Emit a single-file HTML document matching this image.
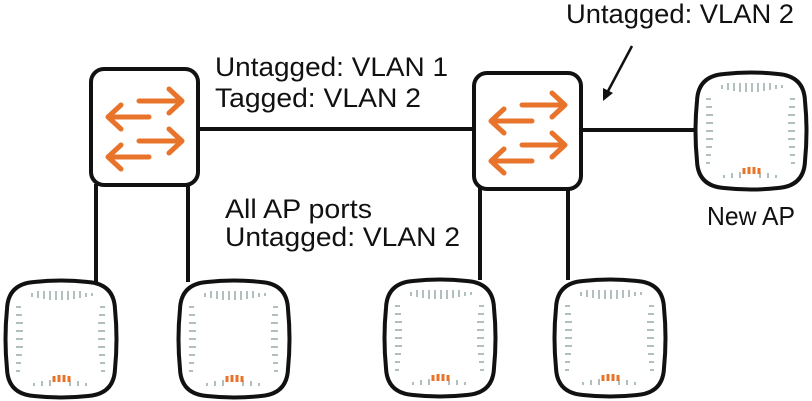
<!DOCTYPE html>
<html><head><meta charset="utf-8"><style>
html,body{margin:0;padding:0;background:#fff;}
svg{display:block;}
text{font-family:"Liberation Sans",sans-serif;fill:#111;}
</style></head><body>
<svg width="812" height="401" viewBox="0 0 812 401" xmlns="http://www.w3.org/2000/svg">
<defs>
<g id="sw">
<rect x="0" y="0" width="107" height="116" rx="13" fill="#fff" stroke="#111" stroke-width="4"/>
<g stroke="#e8742c" stroke-width="5" fill="none" stroke-linecap="round" stroke-linejoin="round">
<path d="M48 32 H90 M78 20 L91 32 L78 44"/>
<path d="M58 48 H17 M30 36 L17 48 L30 60"/>
<path d="M48 72 H90 M78 60 L91 72 L78 84"/>
<path d="M58 88 H17 M30 76 L17 88 L30 100"/>
</g>
</g>
<g id="ap">
<path d="M30 3 Q57 0 84 3 Q110 5 111 30 Q114 60 111 90 Q110 115 84 117 Q57 120 30 117 Q4 115 3 90 Q0 60 3 30 Q4 5 30 3 Z" fill="#fff" stroke="#111" stroke-width="4"/>
<g stroke="#9aa" stroke-width="1.5">
<path d="M28 14v4M34 12v7M40 12v8M46 12v9M52 12v9M58 12v9M64 12v9M70 12v8M76 12v7M82 14v4M88 14v3"/>
<path d="M12 28h5M12 36h6M12 44h7M12 52h7M12 60h7M12 68h7M12 76h6M12 84h5M12 92h4"/>
<path d="M96 28h5M95 36h6M94 44h7M94 52h7M94 60h7M94 68h7M95 76h6M96 84h5M97 92h4"/>
<path d="M30 104v3M38 102v5M46 101v6M66 101v6M74 102v5M82 104v3"/>
</g>
<g stroke="#e8742c" stroke-width="3"><path d="M50 97v6M55 96v7M60 96v7M65 97v6"/></g>
</g>
</defs>
<g stroke="#111" stroke-width="4" fill="none">
<line x1="197" y1="129" x2="476" y2="129"/>
<line x1="580" y1="130" x2="697" y2="130"/>
<line x1="96" y1="184" x2="96" y2="282"/>
<line x1="188" y1="184" x2="188" y2="282"/>
<line x1="480" y1="186" x2="480" y2="280"/>
<line x1="568" y1="186" x2="568" y2="280"/>
</g>
<use href="#sw" x="91" y="69"/>
<use href="#sw" x="474" y="73"/>
<use href="#ap" x="694" y="71"/>
<use href="#ap" x="4" y="279"/>
<use href="#ap" x="177" y="279"/>
<use href="#ap" x="383" y="278"/>
<use href="#ap" x="553" y="278"/>
<line x1="632" y1="46" x2="607" y2="93" stroke="#111" stroke-width="2.5"/>
<path d="M603 101 L603 88 L613 93 Z" fill="#111"/>
<text x="215" y="76" font-size="27" textLength="233" lengthAdjust="spacingAndGlyphs">Untagged: VLAN 1</text>
<text x="215" y="107" font-size="27" textLength="206" lengthAdjust="spacingAndGlyphs">Tagged: VLAN 2</text>
<text x="225" y="218" font-size="27" textLength="147" lengthAdjust="spacingAndGlyphs">All AP ports</text>
<text x="225" y="246" font-size="27" textLength="235" lengthAdjust="spacingAndGlyphs">Untagged: VLAN 2</text>
<text x="566" y="23" font-size="27" textLength="228" lengthAdjust="spacingAndGlyphs">Untagged: VLAN 2</text>
<text x="707" y="225" font-size="26" textLength="88" lengthAdjust="spacingAndGlyphs">New AP</text>
</svg>
</body></html>
